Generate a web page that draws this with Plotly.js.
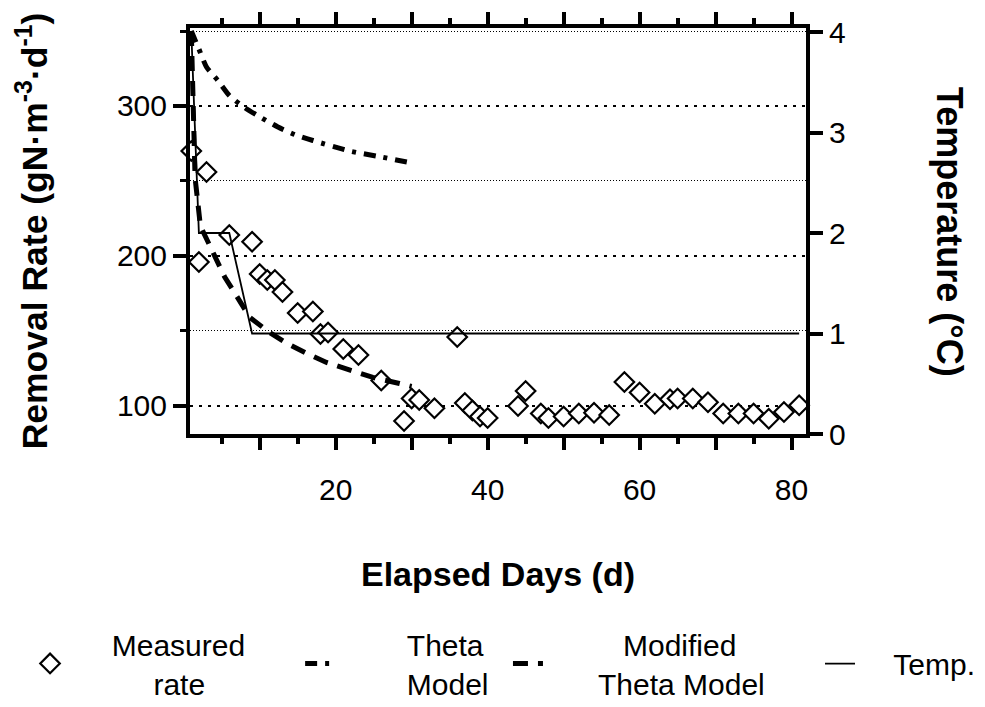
<!DOCTYPE html>
<html>
<head>
<meta charset="utf-8">
<script src="https://cdn.plot.ly/plotly-3.0.1.min.js"></script>
<style>html,body{margin:0;padding:0;background:#fff;}#chart{width:985px;height:707px;}</style>
</head>
<body>
<div id="chart"></div>
<script>
// Measured removal rate (gN·m-3·d-1)
const measuredDays = [1, 2, 3, 6, 9, 10, 11, 12, 13, 15, 17, 18, 19, 21, 23, 26, 29, 30, 31, 33, 36, 37, 38, 39, 40, 44, 45, 47, 48, 50, 52, 54, 56, 58, 60, 62, 64, 65, 67, 69, 71, 73, 75, 77, 79, 81];
const measuredRate = [270, 196, 256, 214, 209.5, 188, 184, 184, 176, 162, 163, 148, 149, 138, 134, 117, 90, 105, 104, 98.5, 146, 102, 97, 93, 92, 100, 110, 95, 92, 93, 95, 95.5, 94, 116, 109, 101.5, 104.5, 105, 105, 102.5, 95, 95, 95, 91.5, 96, 100.5];
// Theta model
const thetaDays = [1, 2, 3, 4.5, 6, 8, 9.6, 12.4, 14.6, 17, 21.8, 26, 30];
const thetaRate = [350, 338, 326, 317, 307, 299, 294, 286, 281, 277, 270, 266, 262];
// Modified theta model
const modDays = [1, 1.5, 2.2, 3.5, 5.4, 7, 8.7, 11.3, 13.5, 16.2, 18.8, 21.8, 24.9, 28.4, 30];
const modRate = [350, 252, 220, 206, 186, 173, 159, 149, 142, 135, 129, 124, 119, 115, 113];
// Temperature (°C)
const tempDays = [1, 2, 6, 9, 81];
const tempVals = [4, 2, 2, 1, 1];
// Tick labels
const xTickVals = [10, 20, 30, 40, 50, 60, 70, 80];
const xTickText = ['', '20', '', '40', '', '60', '', '80'];

const FONT = 'Arial, "Liberation Sans", sans-serif';
const nb = n => '&nbsp;'.repeat(n);

const traces = [
  {x: measuredDays, y: measuredRate, type: 'scatter', mode: 'markers', legend: 'legend',
   name: nb(5) + 'Measured' + nb(6) + '<br>' + nb(10) + 'rate',
   marker: {symbol: 'diamond', size: 15, color: 'white', line: {color: 'black', width: 2.2}},
   cliponaxis: false},
  {x: thetaDays, y: thetaRate, type: 'scatter', mode: 'lines', legend: 'legend',
   name: nb(8) + 'Theta' + '<br>' + nb(8) + 'Model',
   line: {color: 'black', width: 5, dash: '12px,8px,4px,8px', shape: 'spline', smoothing: 0.6}},
  {x: modDays, y: modRate, type: 'scatter', mode: 'lines', legend: 'legend2',
   name: nb(9) + 'Modified' + '<br>' + nb(6) + 'Theta Model',
   line: {color: 'black', width: 5, dash: '15px,10px'}},
  {x: tempDays, y: tempVals, type: 'scatter', mode: 'lines', yaxis: 'y2', legend: 'legend3',
   name: nb(4) + 'Temp.',
   line: {color: 'black', width: 1.8}}
];

const legendCommon = {orientation: 'h', xref: 'container', yref: 'container',
  xanchor: 'left', y: 0.126, yanchor: 'top',
  font: {family: FONT, size: 30, color: 'black'}, borderwidth: 0, bgcolor: 'rgba(0,0,0,0)'};

const layout = {
  width: 985, height: 707,
  paper_bgcolor: 'white', plot_bgcolor: 'white',
  font: {family: FONT, size: 30, color: 'black'},
  margin: {l: 190, r: 179, t: 28, b: 273},
  showlegend: true,
  legend: Object.assign({}, legendCommon, {x: 0.0305}),
  legend2: Object.assign({}, legendCommon, {x: 0.5157}),
  legend3: Object.assign({}, legendCommon, {x: 0.8325, y: 0.098}),
  xaxis: {
    range: [0.83, 81.9], showline: true, linewidth: 4, linecolor: 'black', mirror: 'ticks',
    ticks: 'outside', ticklen: 12, tickwidth: 4, tickcolor: 'black',
    tickmode: 'array', tickvals: xTickVals, ticktext: xTickText,
    ticklabelstandoff: 14,
    minor: {dtick: 5, tick0: 0, ticks: 'outside', ticklen: 6, tickwidth: 4, tickcolor: 'black'},
    showgrid: false, zeroline: false,
    tickfont: {family: FONT, size: 30, color: 'black'},
    title: {text: 'Elapsed Days (d)', font: {family: FONT, size: 34, color: 'black', weight: 'bold'}, standoff: 58}
  },
  yaxis: {
    range: [81.3, 352], showline: true, linewidth: 4, linecolor: 'black',
    ticks: 'outside', ticklen: 13, tickwidth: 4, tickcolor: 'black',
    tickmode: 'linear', tick0: 0, dtick: 100,
    showgrid: true, gridcolor: 'black', gridwidth: 2, griddash: '3px,6px',
    minor: {dtick: 50, tick0: 0, ticks: 'outside', ticklen: 6, tickwidth: 3, tickcolor: 'black',
            showgrid: true, gridcolor: 'black', gridwidth: 1, griddash: '1px,2px'},
    zeroline: false,
    tickfont: {family: FONT, size: 30, color: 'black'},
    title: {text: 'Removal Rate (gN·m<sup>-3</sup>·d<sup>-1</sup>)', font: {family: FONT, size: 35.5, color: 'black', weight: 'bold'}, standoff: 60}
  },
  yaxis2: {
    overlaying: 'y', side: 'right', range: [0, 4.04],
    showline: true, linewidth: 4, linecolor: 'black',
    ticks: 'outside', ticklen: 13, tickwidth: 4, tickcolor: 'black',
    tickmode: 'linear', tick0: 0, dtick: 1,
    showgrid: false, zeroline: false,
    tickfont: {family: FONT, size: 30, color: 'black'}
  },
  annotations: [
    {text: 'Temperature (°C)', xref: 'paper', yref: 'paper', x: 1.234, y: 0.4975,
     xanchor: 'center', yanchor: 'middle', textangle: 90, showarrow: false,
     font: {family: FONT, size: 36, color: 'black', weight: 'bold'}}
  ]
};

Plotly.newPlot('chart', traces, layout, {displayModeBar: false, staticPlot: true});
</script>
</body>
</html>
